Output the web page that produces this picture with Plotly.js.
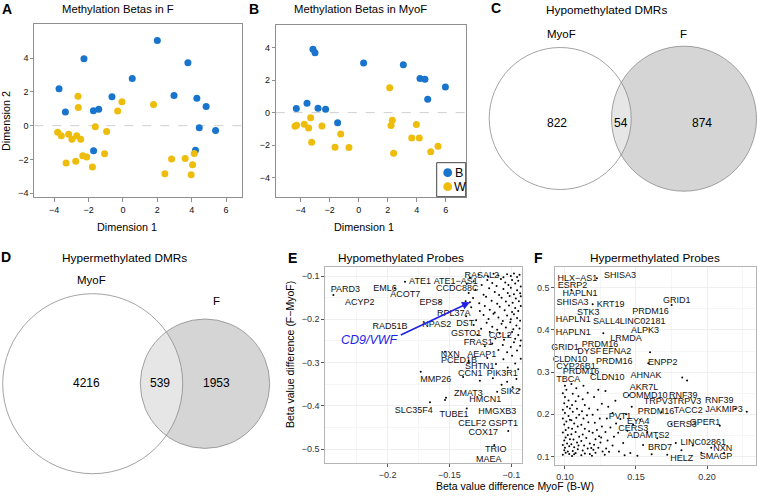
<!DOCTYPE html>
<html><head><meta charset="utf-8">
<script src="https://cdn.plot.ly/plotly-3.0.1.min.js"></script>
<style>html,body{margin:0;padding:0;background:#fff}#chart{width:757px;height:496px}</style>
</head><body><div id="chart"></div>
<script>
// ---------- Panel A: Methylation Betas in F (MDS) ----------
const aBlueX = [-3.72,-3.35,-2.27,-1.71,-1.72,-1.41,-0.64,0.54,2.00,2.97,3.78,4.30,4.22,4.44,4.84,5.39];
const aBlueY = [2.19,0.81,3.96,-1.48,0.89,0.97,1.72,2.80,5.05,1.78,3.73,1.62,-1.46,-0.12,1.14,-0.28];
const aYellowX = [-3.80,-3.59,-3.16,-2.97,-3.31,-2.75,-2.69,-2.46,-2.62,-2.60,-2.34,-2.11,-1.78,-1.61,-1.07,-0.95,-0.31,-0.06,1.78,2.44,2.83,3.62,3.97,4.05,4.15];
const aYellowY = [-0.39,-0.59,-0.51,-0.81,-2.21,-2.11,-0.59,-0.81,1.74,1.07,-1.78,-1.85,-2.45,-0.06,-1.66,-0.34,0.87,1.42,1.26,-2.84,-1.97,-1.95,-2.90,-2.31,-1.64];
// ---------- Panel B: Methylation Betas in MyoF ----------
const bBlueX = [-4.30,-3.56,-3.15,-3.01,-2.80,-2.28,-1.45,0.34,3.08,4.23,4.57,4.76,5.98];
const bBlueY = [0.25,0.58,3.91,3.70,0.27,0.21,-0.62,3.07,2.96,2.10,2.06,0.82,1.58];
const bYellowX = [-4.39,-4.28,-3.75,-3.45,-3.31,-3.24,-2.53,-1.63,-1.24,-0.67,2.14,2.23,2.32,2.41,3.66,3.98,4.18,4.97,5.47];
const bYellowY = [-0.84,-0.78,-0.72,-0.95,-0.31,-1.83,-0.82,-2.14,-1.32,-2.16,1.54,-0.80,-0.47,-2.51,-1.56,-0.74,-1.56,-2.41,-2.08];
const groupNames = ['B','W'];
const dimTicks = [-4,-2,0,2,4,6];
// ---------- Venn counts [MyoF only, both, F only] ----------
const vennSets = ['MyoF','F'];
const hypoCounts = [822,54,874];
const hyperCounts = [4216,539,1953];
// ---------- Panel E: Hypomethylated probes [MyoF(B-W), F-MyoF] ----------
const hypoProbes = [
[-0.1335,-0.104],[-0.1265,-0.097],[-0.119,-0.101],[-0.1145,-0.095],[-0.1105,-0.099],[-0.1065,-0.103],[-0.1035,-0.096],[-0.1005,-0.1],[-0.098,-0.094],[-0.0955,-0.102],[-0.0935,-0.097],
[-0.136,-0.118],[-0.1305,-0.112],[-0.124,-0.121],[-0.1195,-0.109],[-0.1155,-0.116],[-0.112,-0.123],[-0.1085,-0.107],[-0.105,-0.115],[-0.1025,-0.121],[-0.0995,-0.109],[-0.097,-0.117],[-0.0945,-0.111],[-0.0925,-0.124],
[-0.1345,-0.139],[-0.129,-0.132],[-0.1225,-0.143],[-0.118,-0.128],[-0.1135,-0.137],[-0.11,-0.144],[-0.1065,-0.13],[-0.103,-0.139],[-0.1005,-0.127],[-0.098,-0.142],[-0.0955,-0.133],[-0.093,-0.14],
[-0.137,-0.158],[-0.131,-0.151],[-0.126,-0.163],[-0.1205,-0.148],[-0.116,-0.157],[-0.1115,-0.164],[-0.108,-0.15],[-0.1045,-0.159],[-0.1015,-0.146],[-0.099,-0.162],[-0.0965,-0.152],[-0.094,-0.158],[-0.0925,-0.147],
[-0.1325,-0.172],[-0.1255,-0.181],[-0.1215,-0.169],[-0.1175,-0.178],[-0.1135,-0.184],[-0.1095,-0.171],[-0.1055,-0.179],[-0.102,-0.168],[-0.0995,-0.183],[-0.097,-0.174],[-0.0945,-0.181],[-0.0925,-0.169],
[-0.1365,-0.193],[-0.1285,-0.202],[-0.1225,-0.19],[-0.1185,-0.199],[-0.1145,-0.187],[-0.1105,-0.196],[-0.107,-0.204],[-0.1035,-0.191],[-0.1005,-0.2],[-0.098,-0.188],[-0.0955,-0.197],[-0.093,-0.203],
[-0.1305,-0.213],[-0.1245,-0.222],[-0.12,-0.208],[-0.1155,-0.217],[-0.1115,-0.224],[-0.108,-0.21],[-0.1045,-0.219],[-0.101,-0.207],[-0.0985,-0.223],[-0.096,-0.214],[-0.0935,-0.221],
[-0.1275,-0.236],[-0.1175,-0.229],[-0.113,-0.244],[-0.1095,-0.233],[-0.106,-0.247],[-0.1025,-0.238],[-0.0995,-0.229],[-0.097,-0.245],[-0.0945,-0.236],[-0.0925,-0.249],
[-0.1215,-0.262],[-0.1155,-0.256],[-0.1105,-0.271],[-0.107,-0.259],[-0.1035,-0.276],[-0.1005,-0.264],[-0.098,-0.253],[-0.0955,-0.272],[-0.093,-0.261],
[-0.1345,-0.296],[-0.1195,-0.289],[-0.1125,-0.303],[-0.1065,-0.292],[-0.103,-0.311],[-0.0995,-0.284],[-0.097,-0.302],[-0.0945,-0.315],[-0.0925,-0.291],
[-0.139,-0.333],[-0.1255,-0.342],[-0.115,-0.336],[-0.108,-0.351],[-0.1035,-0.344],[-0.099,-0.357],[-0.096,-0.338],[-0.0935,-0.362],[-0.1115,-0.367],
[-0.2437,-0.1439],[-0.194,-0.128],[-0.1859,-0.113],[-0.1732,-0.321],[-0.1657,-0.3917],[-0.1536,-0.3864],[-0.1139,-0.4903],[-0.1026,-0.458],[-0.1361,-0.4056],[-0.1536,-0.2748],[-0.1577,-0.1593],[-0.1335,-0.1607],[-0.1528,-0.381]
];
const eLabels = ['RASAL2','PARD3','EML6','ATE1','ATE1\u2212AS1','ACOT7','CCDC88C','ACYP2','EPS8','RPL37A','RAD51B','NPAS2','DST','GSTO1','CCL2','FRAS1','NXN','AEAP1','PCED1B','SHTN1','CCN1','PIK3R1','MMP26','ZMAT3','SIK2','HMCN1','SLC35F4','TUBE1','HMGXB3','CELF2','GSPT1','COX17','TRIO','MAEA'];
const eLabelX = [-0.1240,-0.2340,-0.2020,-0.1738,-0.1450,-0.1856,-0.1437,-0.2224,-0.1649,-0.1466,-0.1980,-0.1603,-0.1373,-0.1365,-0.1090,-0.1268,-0.1494,-0.1240,-0.1423,-0.1256,-0.1332,-0.1074,-0.1611,-0.1348,-0.1010,-0.1211,-0.1789,-0.1464,-0.1115,-0.1316,-0.1066,-0.1227,-0.1127,-0.1184];
const eLabelY = [-0.1000,-0.1323,-0.1284,-0.1132,-0.1132,-0.1423,-0.1284,-0.1617,-0.1607,-0.1878,-0.2171,-0.2132,-0.2093,-0.2323,-0.2379,-0.2531,-0.2808,-0.2808,-0.2956,-0.3095,-0.3247,-0.3247,-0.3386,-0.3725,-0.3672,-0.3864,-0.4118,-0.4210,-0.4134,-0.4402,-0.4402,-0.4619,-0.5018,-0.5249];
const cd9Label = 'CD9/VWF';
const cd9Tail = [-0.1905,-0.2379];
const cd9Head = [-0.1335,-0.1607];
const eXTicks = [-0.2,-0.15,-0.1];
const eYTicks = [-0.1,-0.2,-0.3,-0.4,-0.5];
// ---------- Panel F: Hypermethylated probes ----------
const hyperProbes = [
[0.0985,0.104],[0.1005,0.109],[0.0995,0.115],[0.102,0.112],[0.1,0.121],[0.0985,0.127],[0.1015,0.131],[0.103,0.124],[0.0995,0.138],[0.1005,0.145],[0.102,0.151],[0.0985,0.157],[0.1005,0.163],[0.1025,0.168],[0.0995,0.176],[0.101,0.183],[0.0985,0.19],[0.1025,0.196],[0.1,0.203],[0.0985,0.211],[0.1015,0.218],[0.0995,0.226],[0.1025,0.233],[0.1,0.241],[0.0985,0.25],[0.101,0.258],[0.1,0.268],[0.103,0.106],[0.1035,0.141],[0.1035,0.187],[0.1035,0.214],
[0.105,0.101],[0.1075,0.108],[0.1055,0.113],[0.109,0.117],[0.1065,0.122],[0.1045,0.129],[0.1085,0.133],[0.106,0.14],[0.11,0.147],[0.1045,0.153],[0.1075,0.158],[0.105,0.166],[0.109,0.171],[0.1065,0.178],[0.1045,0.186],[0.108,0.192],[0.11,0.199],[0.1055,0.206],[0.1085,0.213],[0.105,0.222],[0.1075,0.231],[0.1095,0.243],[0.1055,0.249],[0.108,0.262],[0.1045,0.272],[0.1065,0.105],[0.1095,0.126],
[0.1115,0.103],[0.114,0.107],[0.1125,0.114],[0.116,0.119],[0.1135,0.126],[0.1175,0.131],[0.1115,0.137],[0.115,0.144],[0.1125,0.152],[0.117,0.16],[0.114,0.166],[0.1115,0.175],[0.1165,0.181],[0.113,0.19],[0.1155,0.198],[0.112,0.207],[0.117,0.214],[0.114,0.222],[0.1125,0.236],[0.116,0.251],[0.113,0.268],[0.1175,0.106],[0.1185,0.12],
[0.119,0.102],[0.1215,0.109],[0.12,0.116],[0.1235,0.121],[0.1205,0.128],[0.125,0.133],[0.1215,0.141],[0.124,0.148],[0.1195,0.156],[0.1225,0.163],[0.126,0.171],[0.121,0.18],[0.1245,0.19],[0.1195,0.199],[0.123,0.211],[0.126,0.225],[0.1205,0.241],[0.1235,0.258],[0.1265,0.112],[0.1255,0.145],
[0.128,0.104],[0.131,0.111],[0.129,0.119],[0.1335,0.126],[0.13,0.138],[0.1345,0.147],[0.1285,0.158],[0.132,0.169],[0.136,0.178],[0.1295,0.19],[0.1335,0.203],[0.1305,0.218],[0.1355,0.232],[0.1285,0.255],[0.138,0.112],[0.1375,0.156],[0.139,0.189],
[0.142,0.103],[0.146,0.108],[0.141,0.132],[0.144,0.161],[0.148,0.176],[0.143,0.2],[0.147,0.218],[0.145,0.245],[0.151,0.102],[0.155,0.127],[0.158,0.158],[0.153,0.187],[0.161,0.105],[0.165,0.143],[0.168,0.205],[0.172,0.104],[0.175,0.177],[0.178,0.132],[0.182,0.115],[0.186,0.28],[0.19,0.126],[0.196,0.109],[0.203,0.121],[0.209,0.173],[0.22,0.213],[0.212,0.108],
[0.1225,0.5228],[0.1195,0.461],[0.1751,0.4594],[0.127,0.392],[0.1599,0.347],[0.1587,0.321],[0.1826,0.287],[0.228,0.206],[0.1045,0.495]
];
const fLabels = ['SHISA3','HLX\u2212AS1','ESRP2','HAPLN1','SHISA3','KRT19','GRID1','STK3','PRDM16','HAPLN1','SALL4','LINC02181','ALPK3','HAPLN1','LRMDA','GRID1','PRDM16','DYSF','EFNA2','CLDN10','PRDM16','ENPP2','CYP26B1','PRDM16','TBCA','CLDN10','AHNAK','AKR7L','COMMD10','RNF39','TRPV3','TRPV3','RNF39','PRDM16','TACC2','JAKMIP3','PVT1','EYA4','GPER1','CERS3','CERS3','ADAMTS2','LINC02861','BRD7','NXN','HELZ','SMAGP'];
const fLabelX = [0.1387,0.1087,0.1054,0.1106,0.1054,0.1322,0.1787,0.1164,0.1603,0.1059,0.1293,0.1547,0.1563,0.1059,0.1430,0.1000,0.1246,0.1171,0.1364,0.1035,0.1347,0.1688,0.1077,0.1113,0.1023,0.1298,0.1570,0.1556,0.1563,0.1833,0.1657,0.1857,0.2087,0.1641,0.1868,0.2120,0.1387,0.1516,0.1986,0.1481,0.1822,0.1587,0.1974,0.1669,0.2111,0.1822,0.2063];
const fLabelY = [0.529,0.5211,0.5045,0.4848,0.4649,0.4594,0.4689,0.4412,0.4435,0.4231,0.4184,0.4198,0.3977,0.3923,0.3788,0.3581,0.3645,0.3472,0.3486,0.3289,0.3249,0.3225,0.313,0.2998,0.2822,0.2855,0.291,0.2632,0.2443,0.2443,0.2286,0.2286,0.2317,0.2063,0.208,0.2103,0.1944,0.1826,0.1811,0.1669,0.1747,0.1486,0.1327,0.1218,0.1178,0.0957,0.1005];
const fXTicks = [0.10,0.15,0.20];
const fXTickText = ['0.10','0.15','0.20'];
const fYTicks = [0.1,0.2,0.3,0.4,0.5];

// ---------- styling / layout helpers ----------
const W = 757, H = 496;
const FONT = 'Liberation Sans, Arial, Helvetica, sans-serif';
const BLUE = '#1874cd', YELLOW = '#eebd0c';
const px = v => v / W;
const py = v => 1 - v / H;
const dom = (a, b) => [px(a), px(b)];
const domY = (top, bottom) => [py(bottom), py(top)];

function mds(x, y, color, xa, ya) {
  return {type:'scatter', mode:'markers', x:x, y:y, xaxis:xa, yaxis:ya,
    marker:{size:7, color:color}, hoverinfo:'skip', showlegend:false, cliponaxis:false};
}
const traces = [
  mds(aBlueX, aBlueY, BLUE, 'x', 'y'),
  mds(aYellowX, aYellowY, YELLOW, 'x', 'y'),
  mds(bBlueX, bBlueY, BLUE, 'x2', 'y2'),
  mds(bYellowX, bYellowY, YELLOW, 'x2', 'y2'),
  {type:'scatter', mode:'markers', x:hypoProbes.map(p=>p[0]), y:hypoProbes.map(p=>p[1]), xaxis:'x3', yaxis:'y3',
    marker:{size:2, color:'#000'}, hoverinfo:'skip', showlegend:false},
  {type:'scatter', mode:'text', x:eLabelX, y:eLabelY, text:eLabels, xaxis:'x3', yaxis:'y3',
    textposition:'middle center', textfont:{family:FONT, size:9, color:'#111'}, hoverinfo:'skip', showlegend:false, cliponaxis:false},
  {type:'scatter', mode:'markers', x:hyperProbes.map(p=>p[0]), y:hyperProbes.map(p=>p[1]), xaxis:'x4', yaxis:'y4',
    marker:{size:2, color:'#000'}, hoverinfo:'skip', showlegend:false},
  {type:'scatter', mode:'text', x:fLabelX, y:fLabelY, text:fLabels, xaxis:'x4', yaxis:'y4',
    textposition:'middle center', textfont:{family:FONT, size:9, color:'#111'}, hoverinfo:'skip', showlegend:false, cliponaxis:false}
];

const baseAxis = {showgrid:false, zeroline:false, showline:true, mirror:true, linecolor:'#8f8f8f', linewidth:1,
  ticks:'outside', ticklen:4, tickcolor:'#8f8f8f', tickfont:{family:FONT, size:9, color:'#111'}, fixedrange:true};
const ggAxis = {zeroline:false, showline:true, mirror:true, linecolor:'#b5b5b5', linewidth:1,
  showgrid:true, gridcolor:'#ebebeb', gridwidth:0.8,
  ticks:'outside', ticklen:3, tickcolor:'#555', tickfont:{family:FONT, size:9, color:'#333'}, fixedrange:true};

const layout = {
  width:W, height:H, margin:{l:0, r:0, t:0, b:0}, paper_bgcolor:'#fff', plot_bgcolor:'#fff', showlegend:false,
  font:{family:FONT, color:'#000'},
  xaxis: Object.assign({}, baseAxis, {domain:dom(34.3, 241.7), range:[-5.16, 6.91], tickvals:dimTicks, anchor:'y'}),
  yaxis: Object.assign({}, baseAxis, {domain:domY(24, 197.3), range:[-4.24, 6.02], tickvals:[-4,-2,0,2,4], anchor:'x', ticklen:3}),
  xaxis2: Object.assign({}, baseAxis, {domain:dom(275.7, 465.7), range:[-5.72, 7.38], tickvals:dimTicks, anchor:'y2'}),
  yaxis2: Object.assign({}, baseAxis, {domain:domY(25, 196.7), range:[-5.19, 5.41], tickvals:[-4,-2,0,2,4], anchor:'x2', ticklen:3}),
  xaxis3: Object.assign({}, ggAxis, {domain:dom(325.3, 522), range:[-0.2502, -0.0915], tickvals:eXTicks, anchor:'y3',
    minor:{tickvals:[-0.225,-0.175,-0.125], showgrid:true, gridcolor:'#f4f4f4', ticks:''}}),
  yaxis3: Object.assign({}, ggAxis, {domain:domY(266.7, 462.7), range:[-0.531, -0.0785], tickvals:eYTicks, anchor:'x3',
    minor:{tickvals:[-0.15,-0.25,-0.35,-0.45], showgrid:true, gridcolor:'#f4f4f4', ticks:''}}),
  xaxis4: Object.assign({}, ggAxis, {domain:dom(555.3, 756), range:[0.0932, 0.2345], tickvals:fXTicks, ticktext:fXTickText, anchor:'y4',
    minor:{tickvals:[0.125,0.175,0.225], showgrid:true, gridcolor:'#f4f4f4', ticks:''}}),
  yaxis4: Object.assign({}, ggAxis, {domain:domY(267.3, 465), range:[0.0798, 0.5486], tickvals:fYTicks, anchor:'x4',
    minor:{tickvals:[0.15,0.25,0.35,0.45], showgrid:true, gridcolor:'#f4f4f4', ticks:''}}),
  shapes:[], annotations:[]
};

// dashed zero lines in A and B
layout.shapes.push({type:'line', xref:'x domain', yref:'y', x0:0, x1:1, y0:0, y1:0, line:{color:'#cfcfcf', width:1, dash:'dash'}, layer:'below'});
layout.shapes.push({type:'line', xref:'x2 domain', yref:'y2', x0:0, x1:1, y0:0, y1:0, line:{color:'#cfcfcf', width:1, dash:'dash'}, layer:'below'});

// legend of B (manual)
layout.shapes.push({type:'rect', xref:'paper', yref:'paper', x0:px(436.7), x1:px(465.7), y0:py(196.7), y1:py(162.7), line:{color:'#444', width:1}, fillcolor:'#fff'});
function dot(cx, cy, r, color) {
  return {type:'circle', xref:'paper', yref:'paper', x0:px(cx-r), x1:px(cx+r), y0:py(cy+r), y1:py(cy-r), fillcolor:color, line:{width:0}};
}
layout.shapes.push(dot(447.7, 172.7, 4.4, BLUE));
layout.shapes.push(dot(447.7, 186.7, 4.4, YELLOW));

// Venn diagrams
function circle(cx, cy, r, fill, lineColor, lw) {
  return {type:'circle', xref:'paper', yref:'paper', x0:px(cx-r), x1:px(cx+r), y0:py(cy+r), y1:py(cy-r),
    fillcolor:fill, line:{color:lineColor, width:lw}, layer:'above'};
}
function venn(c1, c2) {
  layout.shapes.push(circle(c2[0], c2[1], c2[2], '#d5d5d5', 'rgba(0,0,0,0)', 0));
  layout.shapes.push(circle(c1[0], c1[1], c1[2], 'rgba(255,255,255,0.42)', '#8c8c8c', 0.8));
  layout.shapes.push(circle(c2[0], c2[1], c2[2], 'rgba(0,0,0,0)', '#8c8c8c', 0.8));
}
venn([560.2, 118.5, 71], [684, 118.7, 72.5]);
venn([92.7, 383.7, 90], [205, 383.7, 64.7]);

function ann(text, x, y, size, opts) {
  layout.annotations.push(Object.assign({text:text, xref:'paper', yref:'paper', x:px(x), y:py(y),
    xanchor:'center', yanchor:'middle', showarrow:false, font:{family:FONT, size:size, color:'#000'}}, opts || {}));
}
// panel letters
ann('<b>A</b>', 7, 9, 14);
ann('<b>B</b>', 254, 9, 14);
ann('<b>C</b>', 496, 8, 14);
ann('<b>D</b>', 6, 257, 14);
ann('<b>E</b>', 292, 258, 14);
ann('<b>F</b>', 538, 258, 14);
// titles
ann('Methylation Betas in F', 118, 9, 11.3);
ann('Methylation Betas in MyoF', 360, 9, 11.3);
ann('Hypomethylated DMRs', 606.7, 10, 11.8);
ann('Hypermethylated DMRs', 124, 257.5, 11.8);
ann('Hypomethylated Probes', 401, 258, 11.8);
ann('Hypermethylated Probes', 655, 258, 11.8);
// axis titles
ann('Dimension 1', 127, 226.5, 10.8);
ann('Dimension 1', 364, 226.5, 10.8);
ann('Dimension 2', 6, 121, 10.8, {textangle:-90});
ann('Beta value difference (F\u2212MyoF)', 290, 355, 10.5, {textangle:-90});
ann('Beta value difference MyoF (B-W)', 514.5, 486, 10.5);
// legend text
ann(groupNames[0], 458.5, 172.7, 12.5);
ann(groupNames[1], 459.5, 186.7, 12.5);
// Venn labels
ann(vennSets[0], 561.7, 34.3, 11.5);
ann(vennSets[1], 683.3, 34.3, 11.5);
ann(String(hypoCounts[0]), 556.7, 123.3, 12);
ann(String(hypoCounts[1]), 620.5, 123.3, 12);
ann(String(hypoCounts[2]), 701.7, 123.3, 12);
ann(vennSets[0], 91, 280, 11.5);
ann(vennSets[1], 216.7, 301, 11.5);
ann(String(hyperCounts[0]), 86, 382.7, 12);
ann(String(hyperCounts[1]), 160, 382.7, 12);
ann(String(hyperCounts[2]), 216.7, 382.7, 12);
// CD9/VWF arrow and label in E
layout.annotations.push({xref:'x3', yref:'y3', axref:'x3', ayref:'y3', x:cd9Head[0], y:cd9Head[1], ax:cd9Tail[0], ay:cd9Tail[1],
  text:'', showarrow:true, arrowcolor:'#1f1fe6', arrowwidth:1.6, arrowhead:2, arrowsize:1, standoff:0, startstandoff:0});
layout.annotations.push({xref:'x3', yref:'y3', x:-0.2141, y:-0.2478, text:'<i>'+cd9Label+'</i>', showarrow:false,
  xanchor:'center', yanchor:'middle', font:{family:FONT, size:12.5, color:'#1f1fe6'}});

Plotly.newPlot('chart', traces, layout, {staticPlot:true, displayModeBar:false});
</script>
</body></html>
